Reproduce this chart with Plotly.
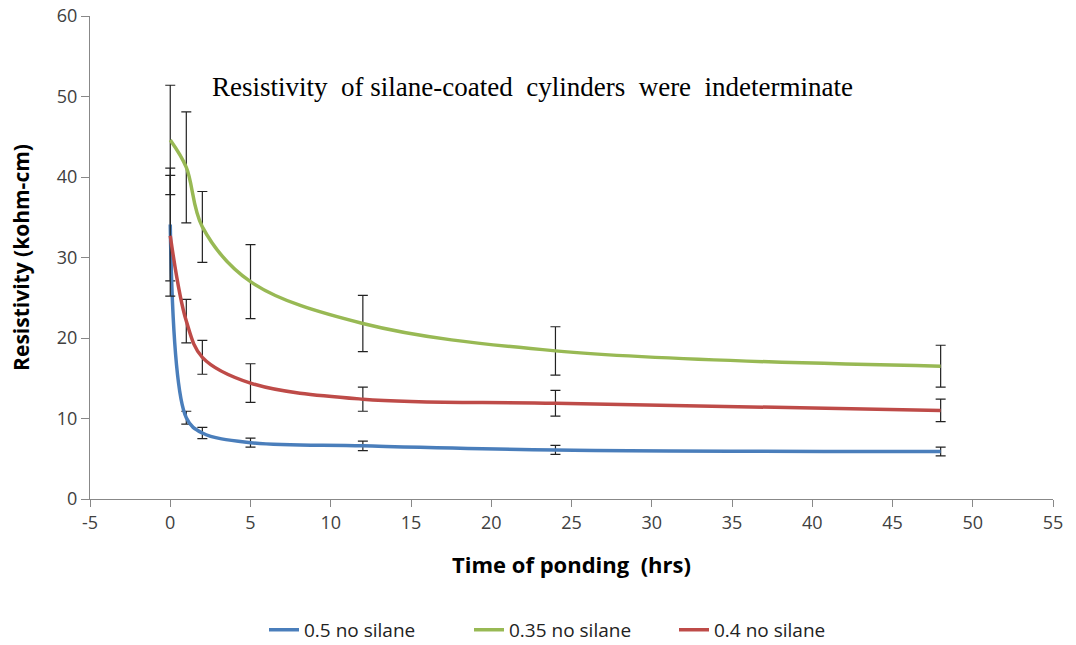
import plotly.graph_objects as go

hours = [0, 1, 2, 5, 12, 24, 48]
blue_vals = [34.1, 10.1, 8.2, 7.0, 6.6, 6.1, 5.9]
blue_err = [7.0, 0.8, 0.7, 0.55, 0.6, 0.55, 0.55]
green_vals = [44.6, 41.2, 33.8, 27.0, 21.8, 18.4, 16.5]
green_err = [6.8, 6.9, 4.4, 4.6, 3.5, 3.0, 2.6]
red_vals = [32.7, 22.1, 17.6, 14.4, 12.4, 11.9, 11.0]
red_err = [7.5, 2.7, 2.1, 2.4, 1.5, 1.6, 1.4]

x_ticks = [-5, 0, 5, 10, 15, 20, 25, 30, 35, 40, 45, 50, 55]
x_tick_text = ["-5", "0", "5", "10", "15", "20", "25", "30", "35", "40", "45", "50", "55"]

series = [
    ("0.5 no silane", blue_vals, blue_err, "#4a7ebb"),
    ("0.35 no silane", green_vals, green_err, "#98b954"),
    ("0.4 no silane", red_vals, red_err, "#be4b48"),
]

fig = go.Figure()
for name, vals, err, col in series:
    fig.add_trace(go.Scatter(
        x=hours, y=vals, name=name, mode="lines",
        line=dict(color=col, width=3.5, shape="spline", smoothing=1.0),
        error_y=dict(type="data", array=err, visible=True, color="#222222",
                     thickness=1.2, width=5),
    ))

fig.add_annotation(
    x=22.6, y=51.2, xref="x", yref="y", showarrow=False,
    text="Resistivity  of silane-coated  cylinders  were  indeterminate",
    font=dict(family="Liberation Serif", size=27, color="#000000"),
)

sans = "Open Sans, Lato, sans-serif"
axis_font = dict(family=sans, size=18, color="#404040")
fig.update_layout(
    width=1076, height=645,
    paper_bgcolor="white", plot_bgcolor="white",
    margin=dict(l=90, r=23, t=16, b=146, autoexpand=False),
    showlegend=True,
    legend=dict(orientation="h", x=0.5, xanchor="center", y=-0.271, yanchor="middle",
                entrywidth=160, entrywidthmode="pixels",
                font=dict(family=sans, size=19, color="#222222")),
    xaxis=dict(range=[-5, 55], tickmode="array", tickvals=x_ticks, ticktext=x_tick_text,
               showgrid=False, zeroline=False,
               showline=True, linecolor="#888888", linewidth=1,
               ticks="outside", ticklen=7, tickcolor="#888888",
               tickfont=axis_font,
               title=dict(text="<b>Time of ponding  (hrs)</b>",
                          font=dict(family=sans, size=22, color="#000000"),
                          standoff=25)),
    yaxis=dict(range=[0, 60], dtick=10, showgrid=False, zeroline=False,
               showline=True, linecolor="#888888", linewidth=1,
               ticks="outside", ticklen=8, tickcolor="#888888",
               tickfont=axis_font,
               title=dict(text="<b>Resistivity (kohm-cm)</b>",
                          font=dict(family=sans, size=21, color="#000000"),
                          standoff=21)),
)

fig.write_html("out.html")
